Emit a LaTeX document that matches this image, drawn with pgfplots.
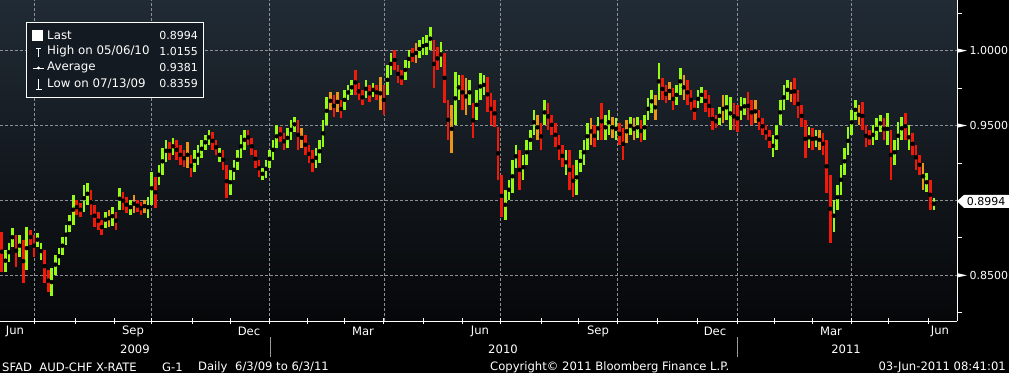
\documentclass[border=0pt]{standalone}
\usepackage{pgfplots}
\pgfplotsset{compat=1.18}
\usepackage{pgfplotstable}
\usepackage{fontspec}
\setmainfont{DejaVu Sans}
\definecolor{bgtop}{RGB}{33,43,53}
\definecolor{bgbot}{RGB}{6,7,9}
\definecolor{bargreen}{RGB}{150,250,20}
\definecolor{barred}{RGB}{240,25,10}
\definecolor{barorange}{RGB}{235,150,25}
\definecolor{gridc}{RGB}{140,145,150}
\definecolor{legfill}{RGB}{20,26,33}
\newcommand\fs{\fontsize{11.6bp}{13bp}\selectfont}
\newcommand\fv{\fontsize{11bp}{13bp}\selectfont}
\newcommand\fl{\fontsize{11.8bp}{14bp}\selectfont}

% AUD-CHF, one bar per two trading days: high, low, colour (1 up, 0 down, 2 mixed)
\pgfplotstableread{
h l c
0.8791 0.8525 0
0.8671 0.8525 1
0.8718 0.8591 1
0.8818 0.8691 1
0.8771 0.8558 0
0.8771 0.8625 1
0.8738 0.8451 0
0.8825 0.8538 1
0.8805 0.8705 0
0.8771 0.8625 0
0.8785 0.8691 1
0.8718 0.8605 1
0.8671 0.8451 0
0.8538 0.8391 0
0.8551 0.8359 1
0.8638 0.8505 1
0.8685 0.8571 1
0.8758 0.8638 1
0.8838 0.8705 1
0.8905 0.8791 1
0.9038 0.8838 1
0.9005 0.8905 0
0.8985 0.8891 0
0.9105 0.8925 1
0.9118 0.8971 1
0.9071 0.8905 0
0.8971 0.8825 0
0.8925 0.8805 0
0.8871 0.8771 0
0.8925 0.8818 1
0.8938 0.8825 2
0.8958 0.8831 1
0.8925 0.8805 0
0.9085 0.8938 1
0.9058 0.8938 0
0.9025 0.8918 0
0.9005 0.8905 1
0.9038 0.8918 2
0.9005 0.8925 0
0.8991 0.8905 0
0.9005 0.8918 2
0.9025 0.8885 1
0.9191 0.8971 1
0.9158 0.8951 0
0.9238 0.9105 1
0.9351 0.9171 1
0.9405 0.9258 1
0.9391 0.9271 0
0.9418 0.9305 1
0.9405 0.9271 0
0.9371 0.9238 0
0.9338 0.9225 0
0.9391 0.9218 2
0.9305 0.9158 0
0.9338 0.9191 1
0.9371 0.9238 1
0.9405 0.9285 1
0.9438 0.9338 1
0.9471 0.9371 1
0.9458 0.9338 0
0.9405 0.9305 0
0.9351 0.9258 1
0.9338 0.9205 0
0.9238 0.9018 0
0.9205 0.9038 1
0.9271 0.9138 1
0.9338 0.9205 1
0.9438 0.9285 1
0.9471 0.9338 1
0.9471 0.9371 0
0.9418 0.9305 0
0.9338 0.9218 0
0.9271 0.9158 0
0.9218 0.9138 1
0.9271 0.9151 1
0.9338 0.9218 1
0.9405 0.9271 1
0.9505 0.9351 1
0.9491 0.9391 0
0.9451 0.9338 0
0.9485 0.9351 1
0.9538 0.9405 1
0.9558 0.9458 1
0.9538 0.9338 0
0.9485 0.9351 2
0.9438 0.9305 0
0.9371 0.9251 0
0.9338 0.9191 0
0.9351 0.9218 1
0.9405 0.9251 1
0.9538 0.9358 1
0.9691 0.9505 1
0.9725 0.9605 2
0.9705 0.9558 0
0.9725 0.9591 2
0.9671 0.9551 0
0.9738 0.9605 1
0.9771 0.9671 1
0.9805 0.9705 1
0.9871 0.9705 0
0.9785 0.9671 0
0.9738 0.9638 0
0.9805 0.9685 1
0.9771 0.9658 0
0.9785 0.9691 1
0.9771 0.9671 0
0.9825 0.9605 2
0.9771 0.9571 0
0.9905 0.9705 1
0.9985 0.9838 1
1.0005 0.9871 0
0.9905 0.9785 0
0.9871 0.9771 0
0.9938 0.9805 1
1.0005 0.9885 1
1.0018 0.9925 0
1.0051 0.9918 2
1.0071 0.9951 1
1.0091 0.9971 1
1.0105 0.9971 1
1.0155 1.0005 1
1.0071 0.9751 0
1.0025 0.9871 0
1.0058 0.9891 1
0.9985 0.9651 0
0.9671 0.9405 0
0.9638 0.9318 2
0.9858 0.9505 1
0.9838 0.9671 1
0.9838 0.9605 0
0.9818 0.9571 2
0.9805 0.9638 1
0.9651 0.9418 0
0.9738 0.9538 1
0.9851 0.9671 1
0.9838 0.9705 1
0.9825 0.9591 0
0.9718 0.9505 0
0.9671 0.9491 0
0.9491 0.9138 0
0.9171 0.8891 0
0.9071 0.8871 1
0.9138 0.9005 1
0.9271 0.9051 1
0.9371 0.9218 1
0.9338 0.9071 0
0.9305 0.9138 1
0.9405 0.9238 1
0.9471 0.9338 1
0.9605 0.9438 1
0.9571 0.9405 2
0.9518 0.9338 0
0.9671 0.9505 1
0.9651 0.9471 0
0.9571 0.9438 0
0.9518 0.9358 0
0.9438 0.9271 0
0.9371 0.9225 0
0.9338 0.9171 1
0.9338 0.9071 0
0.9238 0.9025 0
0.9271 0.9038 1
0.9338 0.9191 1
0.9405 0.9238 1
0.9518 0.9338 1
0.9551 0.9371 2
0.9505 0.9358 0
0.9558 0.9405 1
0.9651 0.9405 0
0.9571 0.9405 1
0.9605 0.9438 1
0.9558 0.9418 2
0.9551 0.9405 1
0.9518 0.9371 0
0.9485 0.9271 0
0.9538 0.9385 2
0.9558 0.9438 1
0.9551 0.9405 2
0.9558 0.9418 1
0.9538 0.9391 0
0.9571 0.9405 1
0.9685 0.9538 1
0.9738 0.9585 1
0.9705 0.9538 2
0.9918 0.9671 1
0.9818 0.9671 0
0.9771 0.9651 0
0.9791 0.9671 2
0.9751 0.9605 0
0.9771 0.9638 1
0.9885 0.9705 1
0.9838 0.9671 2
0.9805 0.9638 0
0.9738 0.9605 0
0.9671 0.9538 0
0.9738 0.9618 1
0.9758 0.9651 1
0.9738 0.9591 0
0.9705 0.9558 0
0.9618 0.9471 0
0.9571 0.9485 0
0.9625 0.9505 1
0.9705 0.9518 2
0.9705 0.9538 1
0.9691 0.9471 1
0.9651 0.9471 0
0.9638 0.9458 0
0.9691 0.9538 1
0.9685 0.9571 1
0.9725 0.9538 0
0.9671 0.9505 0
0.9671 0.9518 2
0.9605 0.9471 0
0.9551 0.9438 0
0.9505 0.9405 0
0.9471 0.9351 0
0.9438 0.9291 1
0.9505 0.9338 1
0.9671 0.9505 1
0.9771 0.9605 1
0.9805 0.9671 1
0.9791 0.9658 2
0.9818 0.9638 0
0.9738 0.9551 0
0.9638 0.9491 0
0.9538 0.9285 0
0.9491 0.9351 1
0.9485 0.9338 0
0.9471 0.9358 1
0.9471 0.9338 2
0.9451 0.9305 0
0.9405 0.9051 0
0.9171 0.8718 0
0.9005 0.8791 1
0.9105 0.8938 1
0.9238 0.9038 1
0.9351 0.9171 1
0.9491 0.9305 1
0.9605 0.9438 1
0.9671 0.9538 1
0.9638 0.9505 2
0.9658 0.9471 0
0.9505 0.9358 0
0.9471 0.9371 0
0.9505 0.9371 1
0.9551 0.9405 1
0.9571 0.9458 1
0.9551 0.9405 0
0.9585 0.9371 1
0.9471 0.9138 0
0.9405 0.9238 1
0.9525 0.9338 1
0.9558 0.9405 1
0.9585 0.9405 0
0.9505 0.9338 1
0.9451 0.9305 0
0.9371 0.9205 0
0.9305 0.9171 0
0.9251 0.9071 2
0.9185 0.9058 1
0.9138 0.8938 0
0.9018 0.8938 1
}\bars

\begin{document}
\begin{tikzpicture}
\useasboundingbox (0bp,-52bp) rectangle (1009bp,321bp);
\fill[black] (0bp,-52bp) rectangle (1009bp,321bp);
\shade[top color=bgtop, bottom color=bgbot] (0bp,0bp) rectangle (957bp,321bp);
\begin{axis}[
  at={(0bp,0bp)}, anchor=south west, scale only axis,
  width=957bp, height=321bp,
  xmin=-1, xmax=535, ymin=0.8195, ymax=1.0338,
  axis x line*=bottom, axis y line*=right,
  axis line style={white, line width=1bp},
  clip=false,
  xtick={18,84,150,214,279,345,412,476},
  minor xtick={41.5,63,106.5,128,171,192,236,258,302,323,367,389.5,432.5,454,496.5,519},
  xticklabel={},
  xtick align=center,
  major tick length=6bp, minor tick length=5bp,
  major x tick style={white, line width=0.8bp},
  minor x tick style={white, line width=0.8bp},
  ytick={0.85,0.9,0.95,1.0},
  yticklabels={0.8500,,0.9500,1.0000},
  minor ytick={0.825,0.875,0.925,0.975,1.025},
  ytick align=outside,
  major y tick style={draw=none},
  minor y tick style={white, line width=0.8bp},
  yticklabel style={white, font=\fv, xshift=3bp},
  grid=major,
  major grid style={gridc, dash pattern=on 2.5bp off 2.5bp, line width=0.6bp},
]
\addplot[only marks, mark=none, forget plot,
  error bars/.cd, y dir=both, y explicit, error mark=none,
  error bar style={draw=barred, line width=2.6bp}]
  table[x expr=2*\coordindex, y expr={\thisrow{c}==0 ? (\thisrow{h}+\thisrow{l})/2 : nan},
        y error expr={(\thisrow{h}-\thisrow{l})/2}] {\bars};
\addplot[only marks, mark=none, forget plot,
  error bars/.cd, y dir=both, y explicit, error mark=none,
  error bar style={draw=barorange, line width=2.6bp}]
  table[x expr=2*\coordindex, y expr={\thisrow{c}==2 ? (\thisrow{h}+\thisrow{l})/2 : nan},
        y error expr={(\thisrow{h}-\thisrow{l})/2}] {\bars};
\addplot[only marks, mark=none, forget plot,
  error bars/.cd, y dir=both, y explicit, error mark=none,
  error bar style={draw=bargreen, line width=2.6bp}]
  table[x expr=2*\coordindex, y expr={\thisrow{c}==1 ? (\thisrow{h}+\thisrow{l})/2 : nan},
        y error expr={(\thisrow{h}-\thisrow{l})/2}] {\bars};
% right-hand tick flags
\fill[white] (axis cs:535,1.0) ++(0bp,2.2bp) -- ++(10bp,-2.2bp) -- ++(-10bp,-2.2bp) -- cycle;
\fill[white] (axis cs:535,0.95) ++(0bp,2.2bp) -- ++(10bp,-2.2bp) -- ++(-10bp,-2.2bp) -- cycle;
\fill[white] (axis cs:535,0.85) ++(0bp,2.2bp) -- ++(10bp,-2.2bp) -- ++(-10bp,-2.2bp) -- cycle;
% last value marker
\fill[white] (axis cs:535,0.8994) -- ++(7bp,6.5bp) -- ++(45bp,0bp) -- ++(0bp,-13bp) -- ++(-45bp,0bp) -- cycle;
\node[black, font=\fv, inner sep=0pt] at (axis cs:535,0.8994) [xshift=29bp] {0.8994};
\end{axis}

% month and year labels
\begin{scope}[every node/.style={white, font=\fs, inner sep=0pt}]
\node at (15bp,-10bp) {Jun};
\node at (133bp,-10bp) {Sep};
\node at (249bp,-10bp) {Dec};
\node at (363bp,-10bp) {Mar};
\node at (480bp,-10bp) {Jun};
\node at (598bp,-10bp) {Sep};
\node at (715bp,-10bp) {Dec};
\node at (831bp,-10bp) {Mar};
\node at (940bp,-10bp) {Jun};
\node at (135bp,-28bp) {2009};
\node at (503bp,-28bp) {2010};
\node at (846bp,-28bp) {2011};
\node[anchor=west] at (2bp,-46bp) {SFAD\ \ AUD-CHF X-RATE};
\node[anchor=west] at (162bp,-46bp) {G-1};
\node[anchor=west] at (198bp,-46bp) {Daily};
\node[anchor=west] at (235bp,-46bp) {6/3/09 to 6/3/11};
\node[anchor=west] at (490bp,-46bp) {Copyright© 2011 Bloomberg Finance L.P.};
\node[anchor=east] at (1006bp,-46bp) {03-Jun-2011 08:41:01};
\end{scope}
\draw[gray!80, line width=0.8bp] (270bp,-16bp) -- (270bp,-36bp);
\draw[gray!80, line width=0.8bp] (737bp,-16bp) -- (737bp,-36bp);

% legend box
\draw[white, line width=0.9bp, fill=legfill] (26bp,224bp) rectangle (203bp,299bp);
\fill[white] (32bp,280bp) rectangle (43bp,291bp);
\draw[white, line width=0.9bp] (38.5bp,264bp) -- (38.5bp,273bp) (36bp,273bp) -- (41bp,273bp);
\draw[white, line width=0.9bp] (33bp,253bp) -- (44bp,253bp);
\fill[white] (38.5bp,253bp) circle (1.6bp);
\draw[white, line width=0.9bp] (38.5bp,232bp) -- (38.5bp,242bp) (35.5bp,232bp) -- (41.5bp,232bp);
\begin{scope}[every node/.style={white, font=\fl, inner sep=0pt}]
\node[anchor=west] at (47bp,285.5bp) {Last};
\node[anchor=west] at (47bp,269.5bp) {High on 05/06/10};
\node[anchor=west] at (47bp,253.5bp) {Average};
\node[anchor=west] at (47bp,237.5bp) {Low on 07/13/09};
\node[anchor=east, font=\fv] at (198bp,285.5bp) {0.8994};
\node[anchor=east, font=\fv] at (198bp,269.5bp) {1.0155};
\node[anchor=east, font=\fv] at (198bp,253.5bp) {0.9381};
\node[anchor=east, font=\fv] at (198bp,237.5bp) {0.8359};
\end{scope}
\end{tikzpicture}
\end{document}
